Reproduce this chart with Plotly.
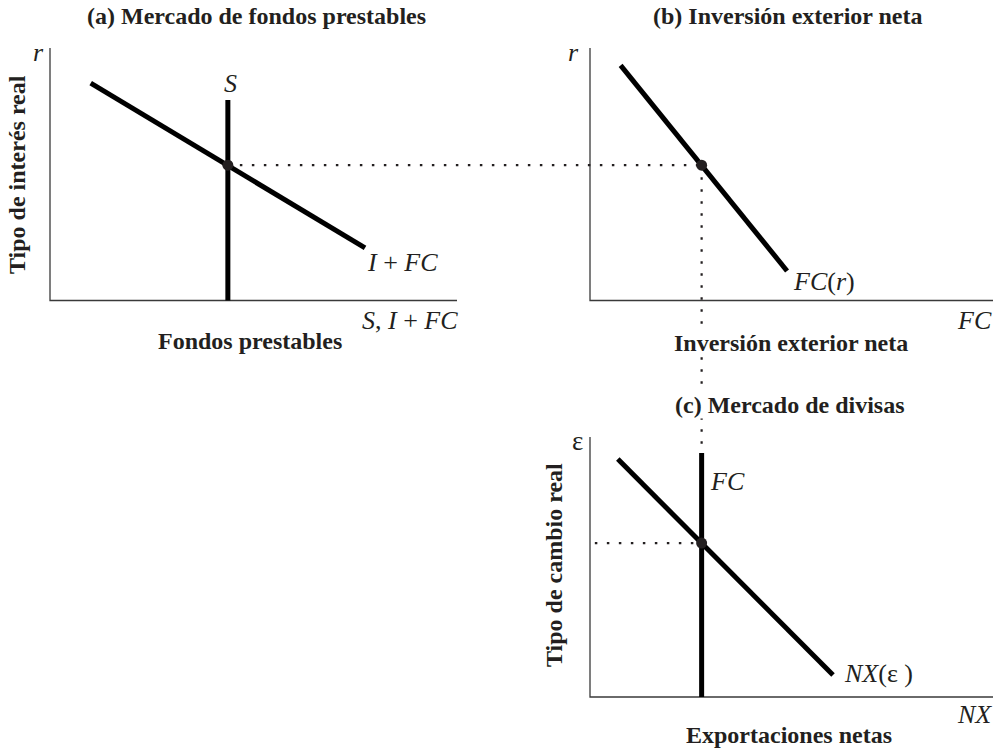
import plotly.graph_objects as go

W, H = 1001, 749

# ---------------- data (diagram units: 0-10 along each drawn axis) ----------------
# Panel (a) Loanable funds market
inv_x = [1.0, 7.74]        # I + FC demand curve
inv_y = [8.61, 2.08]
saving_x = 4.37            # S (vertical supply)
saving_y = [0.0, 7.94]
r_star = 5.36              # equilibrium real interest rate

# Panel (b) Net capital outflow
fc_x = [0.76, 4.89]        # FC(r)
fc_y = [9.31, 1.17]
fc_star = 2.77             # equilibrium net capital outflow

# Panel (c) Foreign-exchange market
nx_x = [0.69, 6.03]        # NX(eps)
nx_y = [9.15, 0.85]
fc_vert_y = [0.0, 9.38]    # FC (vertical supply of domestic currency)
eps_star = 5.92            # equilibrium real exchange rate

AXIS_LEN = 10.0

# ---------------- layout geometry (pixels) ----------------
PANELS = {
    "a": dict(x0=50, y0=300.5, w=407, h=252.5),
    "b": dict(x0=590, y0=300.5, w=403, h=252.5),
    "c": dict(x0=590, y0=697, w=403, h=260),
}

INK = "#231f20"
SERIF = "Liberation Serif"


def P(p, u, v):
    g = PANELS[p]
    return g["x0"] + u * g["w"] / AXIS_LEN, H - (g["y0"] - v * g["h"] / AXIS_LEN)


fig = go.Figure()


def add_path(pts, width, color="black", dash=None):
    fig.add_trace(go.Scatter(
        x=[q[0] for q in pts], y=[q[1] for q in pts], mode="lines",
        line=dict(width=width, color=color, dash=dash),
        hoverinfo="skip", showlegend=False))


# axes of each panel
for p in PANELS:
    add_path([P(p, 0, AXIS_LEN), P(p, 0, 0), P(p, AXIS_LEN, 0)], 1.3, "#3a3a3a")

DOT = "2.5px,9.5px"
# dotted guides
add_path([P("a", saving_x, r_star), P("b", fc_star, r_star)], 2.2, INK, DOT)
add_path([P("b", fc_star, r_star), P("c", fc_star, fc_vert_y[1])], 2.2, INK, DOT)
add_path([P("c", 0.12, eps_star), P("c", fc_star, eps_star)], 2.2, INK, DOT)

# curves
add_path([P("a", u, v) for u, v in zip(inv_x, inv_y)], 5)
add_path([P("a", saving_x, v) for v in saving_y], 5)
add_path([P("b", u, v) for u, v in zip(fc_x, fc_y)], 5)
add_path([P("c", u, v) for u, v in zip(nx_x, nx_y)], 5)
add_path([P("c", fc_star, v) for v in fc_vert_y], 5)

# equilibrium points
eq = [P("a", saving_x, r_star), P("b", fc_star, r_star), P("c", fc_star, eps_star)]
fig.add_trace(go.Scatter(x=[q[0] for q in eq], y=[q[1] for q in eq], mode="markers",
                         marker=dict(size=11, color=INK), hoverinfo="skip",
                         showlegend=False, cliponaxis=False))


def ann(px, py, text, size, bold=False, angle=0, bg=None, xanchor="center"):
    t = f"<b>{text}</b>" if bold else text
    fig.add_annotation(x=px / W, y=1 - py / H, xref="paper", yref="paper",
                       text=t, showarrow=False, textangle=angle,
                       xanchor=xanchor, yanchor="middle",
                       font=dict(family=SERIF, size=size, color=INK),
                       bgcolor=bg, borderpad=0)


BS = 24  # bold label size
IS = 26  # italic label size
# titles
ann(256, 16, "(a) Mercado de fondos prestables", BS, True)
ann(788, 16, "(b) Inversión exterior neta", BS, True)
ann(790, 405, "(c) Mercado de divisas", BS, True, bg="white")

# panel (a)
ann(38, 53, "<i>r</i>", IS)
ann(230, 83, "<i>S</i>", IS)
ann(402, 262, "<i>I</i> + <i>FC</i>", IS)
ann(410, 320, "<i>S</i>, <i>I</i> + <i>FC</i>", IS)
ann(250, 341, "Fondos prestables", BS, True)
ann(17, 175, "Tipo de interés real", BS, True, angle=-90)

# panel (b)
ann(573, 53, "<i>r</i>", IS)
ann(824, 281, "<i>FC</i>(<i>r</i>)", IS)
ann(974, 320, "<i>FC</i>", IS)
ann(791, 343, "Inversión exterior neta", BS, True, bg="white")

# panel (c)
ann(577, 441, "ε", 27)
ann(727, 482, "<i>FC</i>", IS)
ann(878, 673, "<i>NX</i>(ε )", IS)
ann(974, 714, "<i>NX</i>", IS)
ann(789, 735, "Exportaciones netas", BS, True)
ann(554, 565, "Tipo de cambio real", BS, True, angle=-90)

fig.update_layout(
    width=W, height=H, margin=dict(l=0, r=0, t=0, b=0),
    paper_bgcolor="white", plot_bgcolor="white",
    xaxis=dict(range=[0, W], visible=False, fixedrange=True, domain=[0, 1]),
    yaxis=dict(range=[0, H], visible=False, fixedrange=True, domain=[0, 1]),
    showlegend=False,
)

fig.write_html("out.html", config={"displayModeBar": False},
               post_script="document.body.style.margin='0px';document.body.style.overflow='hidden';")
